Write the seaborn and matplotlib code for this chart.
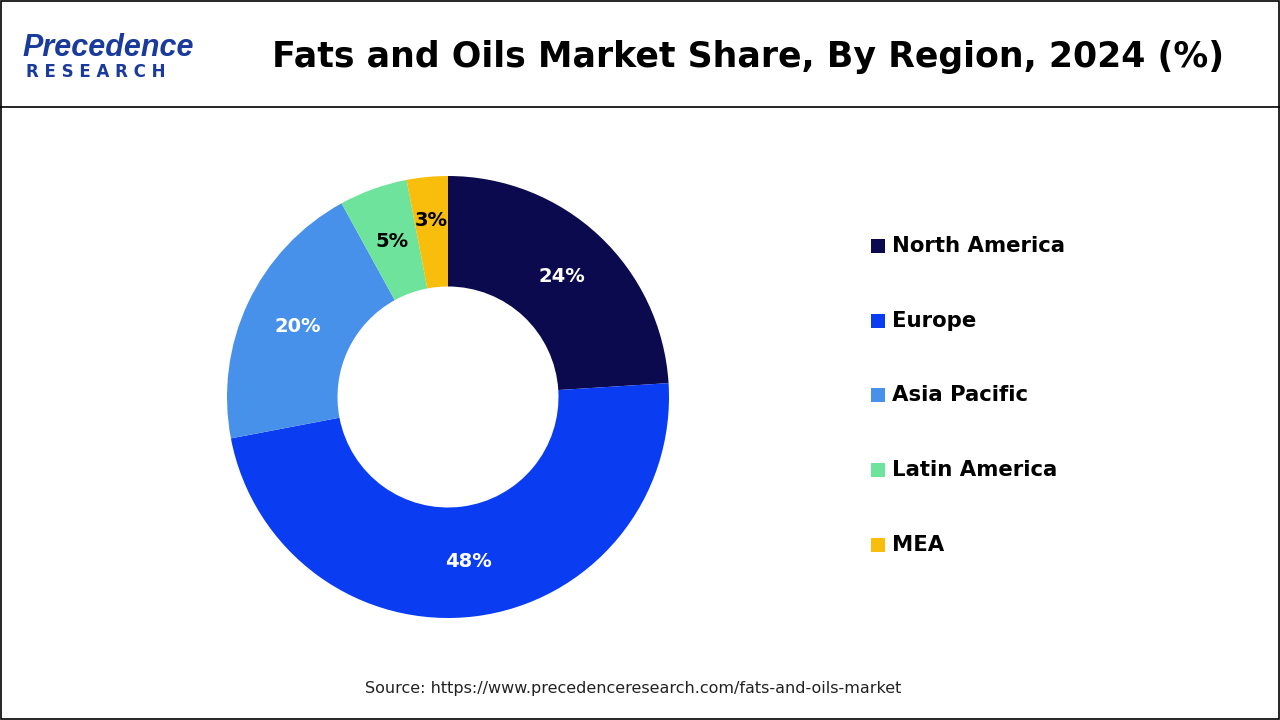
import matplotlib
matplotlib.use("Agg")
import matplotlib.pyplot as plt
import seaborn as sns
import numpy as np
from matplotlib.patches import Rectangle

regions = ["North America", "Europe", "Asia Pacific", "Latin America", "MEA"]
shares = [24, 48, 20, 5, 3]
colors = ["#0b0a4f", "#0a3cf2", "#4891ea", "#6ee39b", "#f9bd0b"]
label_colors = ["white", "white", "white", "black", "black"]

sns.set_theme(style="white")
fig = plt.figure(figsize=(12.8, 7.2), dpi=100)
fig.patch.set_facecolor("white")

fig.add_artist(Rectangle((0.001, 0.001), 0.998, 0.998, transform=fig.transFigure,
                         fill=False, edgecolor="black", linewidth=1.2))
fig.add_artist(plt.Line2D([0, 1], [1 - 107/720] * 2, transform=fig.transFigure,
                          color="black", linewidth=1.2))

fig.text(748/1280, 1 - 57/720, "Fats and Oils Market Share, By Region, 2024 (%)",
         ha="center", va="center", fontsize=25, fontweight="bold", color="black",
         family="DejaVu Sans")
fig.text(22/1280, 1 - 48/720, "Precedence", ha="left", va="center", fontsize=22,
         color="#1a3a9c", fontweight="bold", family="Liberation Sans", style="italic")
fig.text(26/1280, 1 - 72/720, "R E S E A R C H", ha="left", va="center", fontsize=12,
         color="#1a3a9c", fontweight="bold", family="DejaVu Sans")
fig.text(633/1280, 1 - 689/720, "Source: https://www.precedenceresearch.com/fats-and-oils-market",
         ha="center", va="center", fontsize=11.5, color="#222222")

r = 221
ax = fig.add_axes([(448 - r)/1280, 1 - (397 + r)/720, 2*r/1280, 2*r/720])
wedges, _ = ax.pie(shares, colors=colors, startangle=90, counterclock=False,
                   radius=1, wedgeprops=dict(width=0.5, edgecolor="none"))
for w, v, c in zip(wedges, shares, label_colors):
    ang = np.deg2rad((w.theta1 + w.theta2) / 2)
    rr = 0.75 if v > 4 else 0.8
    ax.text(rr*np.cos(ang), rr*np.sin(ang), f"{v}%", ha="center", va="center",
            fontsize=14, fontweight="bold", color=c)
ax.set_aspect("equal")
ax.set_xlim(-1, 1); ax.set_ylim(-1, 1)
ax.axis("off")

ys = [246, 321, 395, 470, 545]
for name, col, y in zip(regions, colors, ys):
    fig.add_artist(Rectangle((871/1280, 1 - (y + 7)/720), 14/1280, 14/720,
                             transform=fig.transFigure, facecolor=col, edgecolor="none"))
    fig.text(892/1280, 1 - y/720, name, ha="left", va="center", fontsize=15.3,
             fontweight="bold", color="black")

fig.savefig("out.png", dpi=100)
